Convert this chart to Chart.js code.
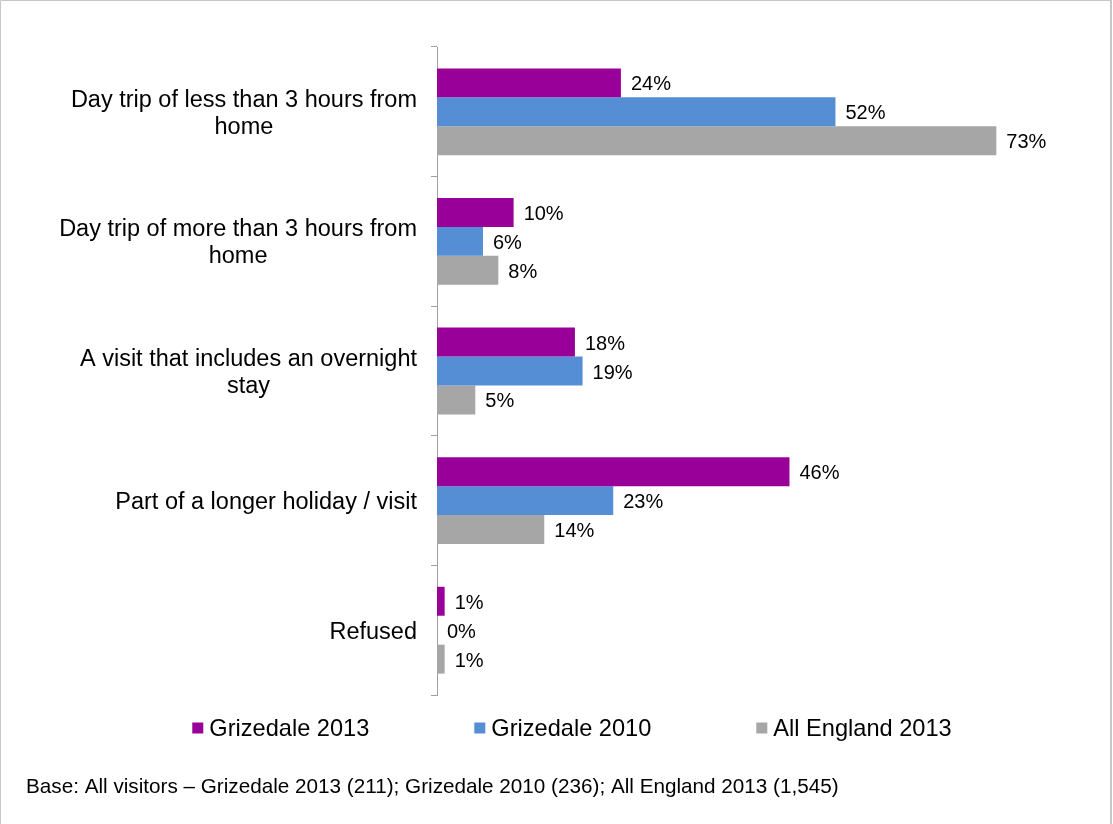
<!DOCTYPE html>
<html>
<head>
<meta charset="utf-8">
<title>Type of visit</title>
<script src="https://cdn.jsdelivr.net/npm/chart.js@4.4.1/dist/chart.umd.min.js"></script>
<style>
  html, body { margin: 0; padding: 0; background: #fff; }
  #wrap { position: relative; width: 1113px; height: 824px; }
  canvas { display: block; }
</style>
</head>
<body>
<div id="wrap"><canvas id="chart" width="1113" height="824"></canvas></div>
<script>
// Visit type categories (each entry is a list of label lines)
const categories = [
  ['Day trip of less than 3 hours from', 'home'],
  ['Day trip of more than 3 hours from', 'home'],
  ['A visit that includes an overnight', 'stay'],
  ['Part of a longer holiday / visit'],
  ['Refused']
];

// Share of visitors, in percent
const grizedale2013 = [24, 10, 18, 46, 1];
const grizedale2010 = [52, 6, 19, 23, 0];
const allEngland2013 = [73, 8, 5, 14, 1];

const seriesNames = ['Grizedale 2013', 'Grizedale 2010', 'All England 2013'];
const seriesColors = ['#990099', '#558ED5', '#A6A6A6'];

const footnote = 'Base: All visitors \u2013 Grizedale 2013 (211); Grizedale 2010 (236); All England 2013 (1,545)';

const FONT = "'Liberation Sans', Arial, sans-serif";

// Frame around the whole figure (top, left and right edges)
const framePlugin = {
  id: 'frame',
  beforeDraw(chart) {
    const ctx = chart.ctx;
    ctx.save();
    ctx.fillStyle = '#fff';
    ctx.fillRect(0, 0, chart.width, chart.height);
    ctx.strokeStyle = '#c6c6c6';
    ctx.lineWidth = 1;
    ctx.beginPath();
    ctx.moveTo(0.5, chart.height);
    ctx.lineTo(0.5, 0.5);
    ctx.lineTo(chart.width - 2, 0.5);
    ctx.stroke();
    ctx.lineWidth = 2;
    ctx.beginPath();
    ctx.moveTo(chart.width - 2, 0);
    ctx.lineTo(chart.width - 2, chart.height);
    ctx.stroke();
    ctx.restore();
  }
};

// Category labels: each block right-aligned next to the axis, lines centred within the block
const categoryLabelPlugin = {
  id: 'categoryLabels',
  afterDraw(chart) {
    const ctx = chart.ctx;
    const yScale = chart.scales.y;
    const right = yScale.right - 20;
    const lineH = 27;
    ctx.save();
    ctx.font = '23.5px ' + FONT;
    ctx.fillStyle = '#000';
    ctx.textAlign = 'center';
    ctx.textBaseline = 'middle';
    categories.forEach((lines, i) => {
      const y = yScale.getPixelForValue(i) + 2;
      const w = Math.max(...lines.map(l => ctx.measureText(l).width));
      const cx = right - w / 2;
      const y0 = y - (lines.length - 1) * lineH / 2;
      lines.forEach((l, k) => ctx.fillText(l, cx, y0 + k * lineH));
    });
    ctx.restore();
  }
};

// Value labels at the end of each bar
const valueLabelPlugin = {
  id: 'valueLabels',
  afterDatasetsDraw(chart) {
    const ctx = chart.ctx;
    ctx.save();
    ctx.font = '20px ' + FONT;
    ctx.fillStyle = '#000';
    ctx.textAlign = 'left';
    ctx.textBaseline = 'middle';
    chart.data.datasets.forEach((ds, di) => {
      const meta = chart.getDatasetMeta(di);
      meta.data.forEach((bar, i) => {
        ctx.fillText(ds.data[i] + '%', bar.x + 10, bar.y + 2);
      });
    });
    ctx.restore();
  }
};

// Legend row and base note below the plot
const legendPlugin = {
  id: 'bottomLegend',
  afterDraw(chart) {
    const ctx = chart.ctx;
    const box = 11, gapBox = 6, gapItem = 105;
    const y = 728;
    ctx.save();
    ctx.font = '23.6px ' + FONT;
    ctx.textBaseline = 'middle';
    ctx.textAlign = 'left';
    const widths = chart.data.datasets.map(ds => box + gapBox + ctx.measureText(ds.label).width);
    const total = widths.reduce((a, b) => a + b, 0) + gapItem * (widths.length - 1);
    let x = 572 - total / 2;
    chart.data.datasets.forEach((ds, i) => {
      ctx.fillStyle = ds.backgroundColor;
      ctx.fillRect(x, y - box / 2, box, box);
      ctx.fillStyle = '#000';
      ctx.fillText(ds.label, x + box + gapBox, y + 1);
      x += widths[i] + gapItem;
    });
    ctx.font = '20.7px ' + FONT;
    ctx.fillText(footnote, 26, 787);
    ctx.restore();
  }
};

const seriesData = [grizedale2013, grizedale2010, allEngland2013];

new Chart(document.getElementById('chart'), {
  type: 'bar',
  data: {
    labels: categories.map(c => c.join(' ')),
    datasets: seriesData.map((d, i) => ({
      label: seriesNames[i],
      data: d,
      backgroundColor: seriesColors[i],
      borderWidth: 0,
      categoryPercentage: 0.67,
      barPercentage: 1.0
    }))
  },
  options: {
    indexAxis: 'y',
    responsive: false,
    animation: false,
    layout: { padding: { left: 0, top: 47, right: 63, bottom: 129 } },
    plugins: {
      legend: { display: false },
      tooltip: { enabled: false }
    },
    scales: {
      x: {
        display: false,
        min: 0,
        max: 80
      },
      y: {
        offset: true,
        grid: {
          offset: true,
          drawOnChartArea: false,
          drawTicks: true,
          tickLength: 6,
          color: '#a0a0a0',
          lineWidth: 1
        },
        border: { display: true, color: '#a0a0a0', width: 1 },
        ticks: { display: false },
        afterFit(scale) { scale.width = 437; }
      }
    }
  },
  plugins: [framePlugin, categoryLabelPlugin, valueLabelPlugin, legendPlugin]
});
</script>
</body>
</html>
